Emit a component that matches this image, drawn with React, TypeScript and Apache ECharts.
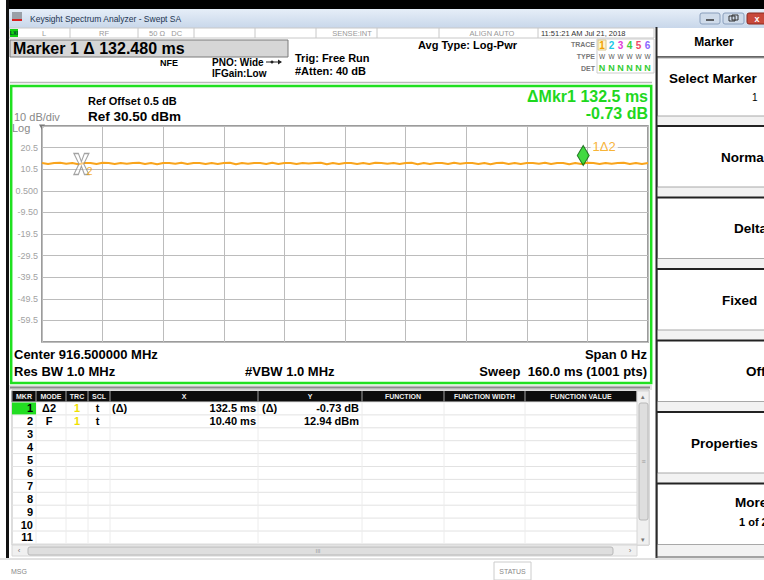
import React, { useEffect, useRef } from "react";
import * as echarts from "echarts";

// ---------------- data ----------------
const SWEEP_MS = 160;
const REF_LEVEL_DBM = 30.5;
const DB_PER_DIV = 10;
const X_DIVS = 10;
const Y_DIVS = 10;

const traceLevels = [
  13.4, 12.9, 13.4, 13.5, 13.0, 13.4, 12.8, 13.4, 13.4, 12.9,
  13.5, 13.4, 12.9, 13.4, 13.0, 13.4, 13.5, 12.9, 13.4, 12.8,
  13.4, 13.4, 13.0, 13.5, 12.9, 13.4, 13.4, 12.9, 13.4, 12.9,
  13.4, 13.5, 12.8, 13.4, 13.0, 13.4, 13.4, 12.9, 13.5, 12.9,
  13.4, 13.4, 12.9, 13.4, 13.1, 13.4, 13.5, 12.8, 13.4, 12.9,
  13.4, 13.4, 12.9, 13.4, 12.9, 13.5, 13.4, 13.0, 13.4, 12.9,
  13.4, 13.5, 12.8, 13.4, 12.9, 13.4, 13.4, 12.9, 13.5, 13.0,
  13.4, 13.4, 12.9, 13.4, 12.8, 13.4, 13.5, 12.9, 13.4, 12.9,
  13.4, 13.4, 13.0, 13.5, 12.9, 13.4, 13.4, 12.8, 13.4, 12.9,
  13.5, 13.4, 12.9, 13.4, 13.0, 13.4, 13.5, 12.9, 13.4, 12.9,
  13.4,
];

const yTickLabels = ["20.5", "10.5", "0.500", "-9.50", "-19.5", "-29.5", "-39.5", "-49.5", "-59.5"];

const refMarkerTimeMs = 10.4;
const refMarkerLevelDbm = 12.94;
const deltaTimeMs = 132.5;
const deltaLevelDb = -0.73;

const tableHeaders = ["MKR", "MODE", "TRC", "SCL", "X", "Y", "FUNCTION", "FUNCTION WIDTH", "FUNCTION VALUE"];
const rowNumbers = ["1", "2", "3", "4", "5", "6", "7", "8", "9", "10", "11"];
const rowModes = ["Δ2", "F"];
const rowTraces = ["1", "1"];
const rowScales = ["t", "t"];
const rowXRefs = ["(Δ)", ""];
const rowXValues = ["132.5 ms", "10.40 ms"];
const rowYRefs = ["(Δ)", ""];
const rowYValues = ["-0.73 dB", "12.94 dBm"];

const statusCells = ["L", "RF", "50 Ω   DC", "", "", "SENSE:INT", "ALIGN AUTO", "11:51:21 AM Jul 21, 2018"];
const traceNums = ["1", "2", "3", "4", "5", "6"];
const traceNumColors = ["#f0a000", "#20c8e8", "#e040d8", "#3cd03c", "#f04868", "#8a66ff"];

const softKeys = ["Normal", "Delta", "Fixed", "Off", "Properties", "More"];

// ---------------- helpers ----------------
const F = '"Liberation Sans", Arial, sans-serif';

function T(x: number, y: number, text: string, size: number, o: any = {}) {
  const align = o.align ?? "left";
  return {
    type: "text",
    x,
    y,
    z: o.z ?? 20,
    silent: true,
    style: {
      text,
      fill: o.color ?? "#000",
      font: `${o.weight ?? "bold"} ${size}px ${F}`,
      textAlign: align,
      align,
      textVerticalAlign: "middle",
      verticalAlign: "middle",
    },
  };
}
function R(x: number, y: number, w: number, h: number, fill: any, stroke?: string, lw = 1, z = 5, r = 0) {
  return {
    type: "rect",
    z,
    silent: true,
    shape: { x, y, width: w, height: h, r },
    style: { fill, stroke: stroke ?? null, lineWidth: stroke ? lw : 0 },
  };
}
function L(x1: number, y1: number, x2: number, y2: number, stroke: string, lw = 1, z = 6) {
  return { type: "line", z, silent: true, shape: { x1, y1, x2, y2 }, style: { stroke, lineWidth: lw } };
}

export default function App() {
  const ref = useRef<HTMLDivElement>(null);

  useEffect(() => {
    if (!ref.current) return;
    const chart = echarts.init(ref.current, undefined, { renderer: "svg" });

    const n = traceLevels.length;
    const traceData = traceLevels.map((v, i) => [(i * SWEEP_MS) / (n - 1), v]);
    const yMax = REF_LEVEL_DBM;
    const yMin = REF_LEVEL_DBM - DB_PER_DIV * Y_DIVS;
    const mk1 = [refMarkerTimeMs + deltaTimeMs, refMarkerLevelDbm + deltaLevelDb];
    const mk2 = [refMarkerTimeMs, refMarkerLevelDbm];

    const g: any[] = [];

    // window frame
    g.push(R(6, 0, 758, 9, "#000", undefined, 0, 30));
    g.push(R(6, 0, 3, 558, "#111", undefined, 0, 30));
    // title bar
    g.push(
      R(9, 9, 755, 19, {
        type: "linear", x: 0, y: 0, x2: 0, y2: 1,
        colorStops: [{ offset: 0, color: "#e6eef8" }, { offset: 1, color: "#c8d7ea" }],
      })
    );
    g.push(R(12, 12, 10, 9, "#9aa0a8"));
    g.push(R(12, 19, 10, 2, "#d82020", undefined, 0, 6));
    g.push(T(30, 18.5, "Keysight Spectrum Analyzer - Swept SA", 8.5, { weight: "normal", color: "#1d3552" }));
    g.push(R(700, 13, 20, 11, "#cfdbea", "#8a9fbc", 1, 6, 2));
    g.push(R(723, 13, 21, 11, "#cfdbea", "#8a9fbc", 1, 6, 2));
    g.push(R(747, 13, 20, 11, "#c8493b", "#8a2a20", 1, 6, 2));
    g.push(L(706, 20, 714, 20, "#333", 1.5, 7));
    g.push(R(729, 16, 6, 5, "none", "#333", 1, 7));
    g.push(R(732, 15, 6, 5, "none", "#333", 1, 7));
    g.push(T(757, 18.5, "x", 9, { color: "#fff", align: "center" }));

    // status row
    g.push(R(9, 28, 645, 10, "#fff", "#c8c8c8", 1, 5));
    g.push(R(10, 29, 8, 8, "#10d010", undefined, 0, 6));
    g.push(T(14, 33, "LXI", 5, { color: "#033", align: "center" }));
    const statusDiv = [70, 138, 194, 255, 316, 377, 439, 538];
    statusDiv.forEach((x) => g.push(L(x, 28, x, 38, "#c8c8c8", 1)));
    const statusX = [42, 104, 149, 0, 0, 352, 492, 541];
    statusCells.forEach((s, i) => {
      if (!s) return;
      const dark = i === 7;
      g.push(
        T(statusX[i], 33.5, s, 7.5, {
          weight: "normal",
          color: dark ? "#333" : "#999",
          align: i === 1 || i === 6 ? "center" : i === 5 ? "center" : "left",
        })
      );
    });

    // marker readout box
    g.push(R(10, 40, 278, 17, "#d6d6d6", "#7a7a7a", 1, 5));
    g.push(T(13, 48.5, "Marker 1 Δ " + "132.480 ms", 16));
    g.push(T(160, 62.5, "NFE", 9));
    g.push(T(212, 62, "PNO: Wide", 10));
    g.push(L(266, 62, 281, 62, "#222", 1, 7));
    g.push({ type: "circle", z: 7, silent: true, shape: { cx: 272, cy: 62, r: 1.5 }, style: { fill: "#222" } });
    g.push({ type: "polygon", z: 7, silent: true, shape: { points: [[278, 59.5], [282, 62], [278, 64.5]] }, style: { fill: "#222" } });
    g.push(T(212, 73, "IFGain:Low", 10));
    g.push(T(295, 58, "Trig: Free Run", 11));
    g.push(T(295, 71, "#Atten: 40 dB", 11));
    g.push(T(418, 45, "Avg Type: Log-Pwr", 11));

    // trace table
    g.push(T(595, 44, "TRACE", 7, { align: "right", color: "#777" }));
    g.push(T(595, 56, "TYPE", 7, { align: "right", color: "#777" }));
    g.push(T(595, 68, "DET", 7, { align: "right", color: "#777" }));
    g.push(R(597, 39, 57, 34, "#fff", "#cccccc", 1, 5));
    g.push(R(598, 40, 8, 10, "#fff6cc", "#d8c890", 1, 6));
    const traceNumX = [602, 611.5, 620.5, 629.5, 638.5, 647.5];
    traceNums.forEach((t, i) => {
      g.push(T(traceNumX[i], 45.5, t, 10, { color: traceNumColors[i], align: "center" }));
      g.push(T(traceNumX[i], 56, "W", 6.5, { weight: "normal", color: "#555", align: "center" }));
      g.push(T(traceNumX[i], 67.5, "N", 9, { color: "#33cc33", align: "center" }));
    });

    // separator above graph
    g.push(L(10, 82.5, 652, 82.5, "#bbbbbb", 1.5));
    // green frame
    g.push(R(11.2, 86, 640, 297, "none", "#20e020", 2.5, 8));
    g.push(T(88, 101, "Ref Offset 0.5 dB", 11));
    g.push(T(88, 116, "Ref 30.50 dBm", 13.5));
    g.push(T(14, 117, "10 dB/div", 11, { weight: "normal", color: "#888" }));
    g.push(T(12, 127.5, "Log", 11, { weight: "normal", color: "#888" }));
    g.push({ type: "polygon", z: 9, silent: true, shape: { points: [[39, 124.5], [45, 124.5], [42, 130]] }, style: { fill: "#777" } });
    g.push(T(648, 96, "ΔMkr1 132.5 ms", 16, { align: "right", color: "#1ed81e" }));
    g.push(T(648, 113, "-0.73 dB", 16, { align: "right", color: "#1ed81e" }));
    g.push(T(14, 354, "Center 916.500000 MHz", 13));
    g.push(T(14, 371, "Res BW 1.0 MHz", 13));
    g.push(T(245, 371, "#VBW 1.0 MHz", 13));
    g.push(T(647, 354, "Span 0 Hz", 13, { align: "right" }));
    g.push(T(647, 371, "Sweep  160.0 ms (1001 pts)", 13, { align: "right" }));

    // separator below graph
    g.push(R(9, 385, 643, 5, "#e4e4e4"));
    g.push(L(10, 387.5, 650, 387.5, "#8a8a8a", 2));

    // marker table
    const cols = [12, 36, 66, 88, 110, 258, 362, 444, 525, 637];
    const headTop = 391;
    const rowTop = 402;
    const rowH = 12.9;
    g.push(R(12, 390, 637, 155, "#fff", "#bbbbbb", 1, 5));
    g.push(R(12, headTop, 625, 11, "#0c0c0c", undefined, 0, 6));
    cols.forEach((x) => g.push(L(x, headTop, x, headTop + 11, "#8a8a8a", 1.2, 7)));
    tableHeaders.forEach((h, i) => {
      const cx = (cols[i] + cols[i + 1]) / 2;
      g.push(T(cx, headTop + 5.8, h, 7, { color: "#f0f0f0", align: "center" }));
    });
    for (let k = 0; k <= rowNumbers.length; k++) {
      const y = rowTop + rowH * k;
      g.push(L(12, y, 637, y, "#e2e2e2", 1));
    }
    cols.slice(1, -1).forEach((x) => g.push(L(x, rowTop, x, rowTop + rowH * rowNumbers.length, "#ececec", 1)));
    g.push(R(12, rowTop + 0.5, 24, rowH - 1, "#22dd22", undefined, 0, 6));
    rowNumbers.forEach((num, i) => {
      const cy = rowTop + rowH * (i + 0.5);
      g.push(T(33, cy, num, 11, { align: "right" }));
      if (i < rowModes.length) {
        g.push(T(49, cy, rowModes[i], 11, { align: "center" }));
        g.push(T(77, cy, rowTraces[i], 11, { align: "center", color: "#f0e000" }));
        g.push(T(97.5, cy, rowScales[i], 11, { align: "center" }));
        if (rowXRefs[i]) g.push(T(112, cy, rowXRefs[i], 11));
        g.push(T(256, cy, rowXValues[i], 11, { align: "right" }));
        if (rowYRefs[i]) g.push(T(262, cy, rowYRefs[i], 11));
        g.push(T(359, cy, rowYValues[i], 11, { align: "right" }));
      }
    });
    // vertical scrollbar
    g.push(R(637, 391, 12, 154, "#f0f0f0", "#d6d6d6", 1, 7));
    g.push(R(639, 403, 9, 117, "#dedede", "#b8b8b8", 1, 8, 2));
    g.push(T(643, 396, "▴", 7, { weight: "normal", color: "#777", align: "center" }));
    g.push(T(643, 539, "▾", 7, { weight: "normal", color: "#777", align: "center" }));
    g.push(T(643.5, 461, "≡", 7, { weight: "normal", color: "#999", align: "center" }));
    // horizontal scrollbar
    g.push(R(12, 545, 625, 11, "#f0f0f0", "#d6d6d6", 1, 7));
    g.push(R(28, 547, 585, 8, "#dedede", "#b8b8b8", 1, 8, 2));
    g.push(T(19, 550.5, "‹", 8, { weight: "normal", color: "#777", align: "center" }));
    g.push(T(630, 550.5, "›", 8, { weight: "normal", color: "#777", align: "center" }));
    g.push(T(318, 550.5, "III", 6, { weight: "normal", color: "#999", align: "center" }));

    // bottom bar
    g.push(L(0, 559, 764, 559, "#c4c4c4", 1));
    g.push(T(11, 571, "MSG", 7, { weight: "normal", color: "#888" }));
    g.push(R(494, 562, 37, 18, "#fff", "#cccccc", 1, 6));
    g.push(T(512.5, 571, "STATUS", 7, { weight: "normal", color: "#888", align: "center" }));

    // right soft-key panel
    g.push(R(656, 28, 110, 530, "#f2f2f2"));
    g.push(R(657, 28, 109, 29, "#fff"));
    g.push(T(714, 41.5, "Marker", 12, { align: "center" }));
    g.push(L(656, 57, 766, 57, "#333", 1.5));
    g.push(R(657.5, 58, 108, 58, "#fff", "#a8a8a8", 1, 6));
    g.push(T(669, 78, "Select Marker", 13.5));
    g.push(T(752, 97, "1", 10, { weight: "normal" }));
    const keyTops = [126, 197.5, 269, 340.5, 412, 483.5];
    const keyTextX = [721, 734, 722, 746, 691, 735];
    keyTops.forEach((top, i) => {
      g.push(R(657.5, top, 108, 61, "#fff", "#a8a8a8", 1, 6));
      g.push(L(657, top, 766, top, "#222", 2, 7));
      const cy = i === 5 ? top + 19 : top + 31;
      g.push(T(keyTextX[i], cy, softKeys[i], 13.5));
    });
    g.push(T(739, 483.5 + 38, "1 of 2", 11));
    g.push(L(656.5, 27, 656.5, 558, "#2a2a2a", 2, 9));
    g.push(L(656, 557, 766, 557, "#555", 1, 9));

    const option: any = {
      animation: false,
      backgroundColor: "#ffffff",
      grid: {
        left: 42,
        top: 126,
        width: 606,
        height: 216,
        show: true,
        borderColor: "#7c7c7c",
        borderWidth: 1.5,
        backgroundColor: "transparent",
        z: 10,
      },
      xAxis: {
        type: "value",
        min: 0,
        max: SWEEP_MS,
        interval: SWEEP_MS / X_DIVS,
        axisLabel: { show: false },
        axisTick: { show: false },
        axisLine: { show: false },
        splitLine: { show: true, lineStyle: { color: "#bcbcbc", width: 1 } },
        z: 10,
      },
      yAxis: {
        type: "value",
        min: yMin,
        max: yMax,
        interval: DB_PER_DIV,
        axisTick: { show: false },
        axisLine: { show: false },
        splitLine: { show: true, lineStyle: { color: "#bcbcbc", width: 1 } },
        axisLabel: {
          margin: 4,
          color: "#a2a2a2",
          fontSize: 9,
          fontFamily: F,
          formatter: (v: number) => {
            const idx = Math.round((yMax - v) / DB_PER_DIV) - 1;
            return idx >= 0 && idx < yTickLabels.length ? yTickLabels[idx] : "";
          },
        },
        z: 10,
      },
      series: [
        {
          type: "line",
          data: traceData,
          showSymbol: false,
          symbol: "none",
          lineStyle: { color: "#f9a41c", width: 2 },
          z: 12,
          silent: true,
        },
        {
          type: "scatter",
          data: [mk2],
          symbol:
            "path://M0,0 L3,0 L5,5.5 L7,0 L10,0 L6.6,7 L10,14 L7,14 L5,8.5 L3,14 L0,14 L3.4,7 Z",
          symbolSize: [15, 21],
          symbolKeepAspect: false,
          itemStyle: { color: "rgba(255,255,255,0.55)", borderColor: "#8c8c8c", borderWidth: 1.2 },
          label: {
            show: true,
            formatter: "2",
            position: "right",
            distance: 0,
            offset: [-3, 7],
            color: "#f5a000",
            fontSize: 11,
            fontFamily: F,
          },
          z: 14,
          silent: true,
        },
        {
          type: "scatter",
          data: [mk1],
          symbol: "diamond",
          symbolSize: [12, 20],
          symbolOffset: [0, "-50%"],
          itemStyle: { color: "#12d012", borderColor: "#0a5a0a", borderWidth: 1 },
          label: {
            show: true,
            formatter: "1Δ2",
            position: "right",
            distance: 1,
            offset: [0, -9],
            color: "#f5a000",
            fontSize: 13,
            fontFamily: F,
            backgroundColor: "#ffffff",
            padding: [0, 2],
          },
          z: 15,
          silent: true,
        },
      ],
      graphic: { elements: g },
    };

    chart.setOption(option);
    return () => chart.dispose();
  }, []);

  return (
    <div
      ref={ref}
      style={{ position: "fixed", left: 0, top: 0, width: 764, height: 580, background: "#fff" }}
    />
  );
}
